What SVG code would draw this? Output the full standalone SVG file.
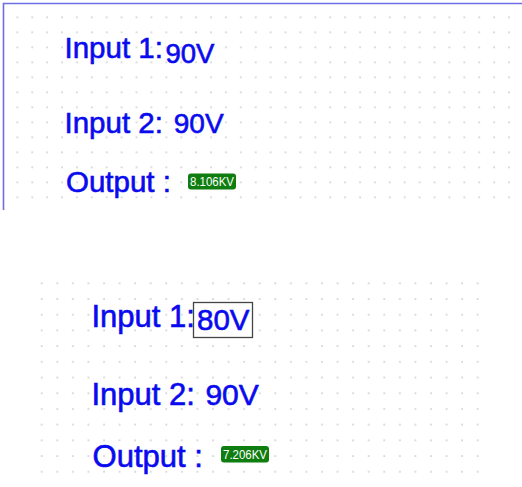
<svg xmlns="http://www.w3.org/2000/svg" width="522" height="487" viewBox="0 0 522 487">
  <defs>
    <pattern id="gridA" x="16.3" y="16.3" width="14.9" height="15" patternUnits="userSpaceOnUse">
      <rect x="0.3" y="0.3" width="1.5" height="1.5" fill="#c4c4c4"/>
    </pattern>
    <pattern id="gridB" x="40.7" y="282.3" width="15.57" height="15.7" patternUnits="userSpaceOnUse">
      <rect x="0.3" y="0.3" width="1.5" height="1.5" fill="#c4c4c4"/>
    </pattern>
  </defs>
  <style>
    .lbl { font-family: "Liberation Sans", Arial, sans-serif; fill: #0a0aee; stroke: #0a0aee; stroke-width: 0.6; }
    .badge { fill: #0f7d0f; }
    .badgeText { font-family: "Liberation Sans", Arial, sans-serif; font-size: 12.5px; fill: #ffffff; text-anchor: middle; }
    .frame { stroke: #6e6ee6; stroke-width: 1.6; fill: none; }
  </style>
  <rect width="522" height="487" fill="#ffffff"/>

  <g id="panel-top">
    <rect x="10" y="10" width="505" height="195" fill="url(#gridA)"/>
    <path class="frame" d="M3.5 210 V3.5 H522"/>
    <g id="top-input1">
      <text class="lbl" x="64.5" y="58" font-size="29.5">Input 1:</text>
      <text class="lbl" x="165.5" y="63" font-size="27.5">90V</text>
    </g>
    <g id="top-input2">
      <text class="lbl" x="64.5" y="133" font-size="29.5">Input 2:</text>
      <text class="lbl" x="173.8" y="133" font-size="28">90V</text>
    </g>
    <g id="top-output">
      <text class="lbl" x="66" y="192" font-size="29.5">Output :</text>
      <rect class="badge" x="188" y="173.5" width="48" height="16" rx="3"/>
      <text class="badgeText" x="212" y="186" textLength="44" lengthAdjust="spacingAndGlyphs">8.106KV</text>
    </g>
  </g>

  <g id="panel-bottom">
    <rect x="35" y="278" width="450" height="200" fill="url(#gridB)"/>
    <g id="bottom-input1">
      <text class="lbl" x="91.4" y="327" font-size="31">Input 1:</text>
      <rect x="193.5" y="302.5" width="59" height="35" fill="#ffffff" stroke="#444444" stroke-width="1.3"/>
      <text class="lbl" x="197" y="330" font-size="29.5">80V</text>
    </g>
    <g id="bottom-input2">
      <text class="lbl" x="91.4" y="405" font-size="31">Input 2:</text>
      <text class="lbl" x="205.4" y="405" font-size="30">90V</text>
    </g>
    <g id="bottom-output">
      <text class="lbl" x="92.6" y="466.5" font-size="31">Output :</text>
      <rect class="badge" x="221" y="446" width="48" height="16.5" rx="3"/>
      <text class="badgeText" x="245" y="459" textLength="44" lengthAdjust="spacingAndGlyphs">7.206KV</text>
    </g>
  </g>
</svg>
